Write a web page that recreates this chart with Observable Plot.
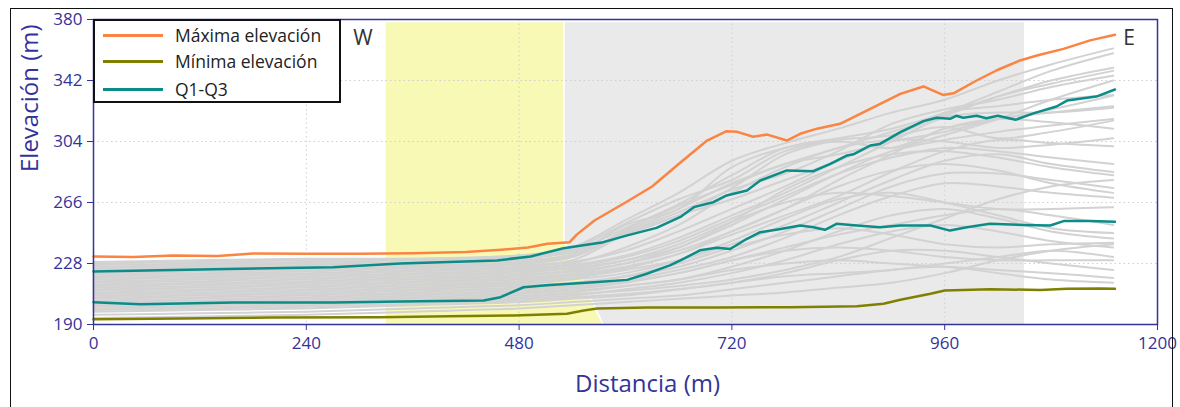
<!DOCTYPE html>
<html>
<head>
<meta charset="utf-8">
<script src="https://cdn.jsdelivr.net/npm/d3@7"></script>
<script src="https://cdn.jsdelivr.net/npm/@observablehq/plot@0.6"></script>
<style>
  html, body { margin: 0; padding: 0; background: #fff; }
  #wrap { position: relative; width: 1180px; height: 407px; overflow: hidden; font-family: "Open Sans", sans-serif; }
  #border { position: absolute; left: 10px; top: 8px; width: 1163px; height: 430px; border: 1.5px solid #111; box-sizing: border-box; pointer-events: none; }
  #chart { position: absolute; left: 0; top: 0; }
  #legend { position: absolute; left: 93px; top: 19px; width: 248px; height: 84px; box-sizing: border-box; border: 2px solid #111; background: #fff; }
  .row { position: absolute; left: 0; height: 26px; display: flex; align-items: center; }
  .sw { width: 60px; height: 3px; margin-left: 8px; margin-right: 12px; }
  .lt { font-size: 17.5px; color: #222; white-space: nowrap; }
</style>
</head>
<body>
<div id="wrap">
  <div id="chart"></div>
  <div id="legend"></div>
  <div id="border"></div>
</div>
<script>
// ---- axes ----
const xTicks = [0, 240, 480, 720, 960, 1200];
const yTicks = [190, 228, 266, 304, 342, 380];
const xLabel = "Distancia (m)";
const yLabel = "Elevación (m)";

// ---- series names & colours ----
const seriesNames = ["Máxima elevación", "Mínima elevación", "Q1-Q3"];
const seriesColors = ["#fb8442", "#808000", "#0b8c88"];

// ---- shaded zones (data coords: distance, elevation bottom/top) ----
const yellowZone = [
  {x: 330, y1: 190, y2: 378}, {x: 530, y1: 190, y2: 378},
  {x: 530, y1: 190, y2: 242}, {x: 574, y1: 190, y2: 190}
];
const grayZone = [
  {x: 532, y1: 242, y2: 378}, {x: 576, y1: 190, y2: 378}, {x: 1050, y1: 190, y2: 378}
];

// ---- side labels ----
const sideLabels = [{t: "W", x: 304, y: 368.5}, {t: "E", x: 1168, y: 368}];

// ---- maximum elevation ----
const maxX = [0,45,90,140,180,240,300,360,420,460,490,512,537,545,565,600,630,660,692,714,726,744,760,782,797,816,842,880,910,936,958,970,996,1020,1045,1064,1094,1124,1152];
const maxY = [232.4,232,233,232.6,234.2,234,234,234.4,235.2,236.6,238,240.3,241.3,246,254.8,266,276,290,304.6,310.4,310,307,308.3,304.6,308.8,312,315,325.4,333.7,338.3,333,334,342,348.7,354.5,357.6,361.7,367,370.5];

// ---- minimum elevation ----
const minX = [0,100,200,323,400,474,534,553,568,624,700,786,861,891,910,944,960,1011,1068,1098,1135,1152];
const minY = [193.3,193.8,194.3,194.5,195.2,195.6,196.7,198.7,200,200.6,200.6,200.8,201.4,202.9,205.4,209.1,211.2,212,211.5,212.2,212.4,212.2];

// ---- Q3 (upper quartile) ----
const q3X = [0,120,270,346,455,493,530,575,602,635,662,677,699,714,737,752,782,812,831,850,857,876,887,910,936,951,966,973,981,996,1007,1020,1040,1060,1086,1098,1131,1152];
const q3Y = [223,224.2,225.7,228,229.9,232.4,237.5,241.3,245.5,250.2,257,263.1,266.2,270.4,273.5,279.7,286,285.5,290,295.3,296,301.5,302.5,309.8,316.7,318.8,318.1,320,318.8,320,318.5,320,317.5,321.5,325.8,329.5,332,336.4];

// ---- Q1 (lower quartile) ----
const q1X = [0,53,158,270,346,440,459,485,511,564,602,624,650,662,684,703,718,737,752,775,797,812,825,838,861,887,910,944,966,985,1011,1049,1079,1094,1124,1152];
const q1Y = [203.9,202.6,203.7,203.7,204.3,205,207,213.2,214.5,216.3,217.8,221.6,226.8,229.9,236.2,237.8,237,243.4,247.5,249.5,251.7,250.6,249,252.7,251.7,250.6,251.7,251.7,248.5,250.6,252.7,252,251.7,254.4,254.4,254];

// ---- individual profiles (grey) ----
const grayX = [0,120,240,360,480,540,600,660,720,780,840,900,960,1020,1080,1150];
const grayProfiles = [
  [229,230,231,231,233,238,255,272,292,303,312,322,330,342,352,362],
  [227,228,229,230,232,236,250,265,283,300,306,312,322,335,348,359],
  [226,227,228,229,231,235,246,258,275,296,305,308,321,332,342,350],
  [224,225,226,227,229,233,248,262,278,290,300,310,320,332,340,348],
  [222,223,224,226,228,232,247,260,274,284,298,315,324,330,338,345],
  [225,226,227,228,230,234,252,262,288,300,304,300,308,318,330,342],
  [220,221,222,224,226,229,236,248,262,276,292,306,322,326,330,333],
  [223,224,225,226,228,232,249,264,277,290,296,304,310,318,322,326],
  [218,219,220,222,224,227,233,244,258,272,288,304,319,322,322,325],
  [216,217,218,220,222,225,230,238,252,268,284,298,305,310,314,318],
  [221,222,223,225,227,230,246,258,268,280,292,306,313,306,310,317],
  [214,215,216,218,220,223,228,236,248,262,280,296,312,318,316,312],
  [219,220,221,223,225,228,238,252,272,288,300,305,304,300,302,306],
  [212,213,214,216,218,221,226,234,246,258,270,285,298,305,303,301],
  [217,218,219,221,223,226,232,242,256,270,284,294,300,298,294,290],
  [210,211,212,214,216,219,224,230,240,252,266,280,292,296,290,285],
  [213,214,215,217,219,222,228,238,254,274,288,296,298,294,288,283],
  [208,209,210,212,214,216,220,226,236,248,262,276,284,284,280,275],
  [211,212,213,215,217,220,225,234,248,262,276,286,290,286,278,272],
  [206,207,208,210,212,214,218,224,232,244,258,270,278,276,272,269],
  [215,216,217,219,221,224,230,240,254,266,272,270,266,262,262,263],
  [204,205,206,208,210,212,216,222,230,238,246,252,258,262,258,252],
  [209,210,211,213,215,218,222,230,242,256,268,272,266,258,250,247],
  [202,203,204,206,208,210,214,218,226,236,248,258,262,256,248,243.6],
  [207,208,209,211,213,215,220,228,238,246,250,246,240,238,240,241],
  [200,201,202,204,206,208,212,216,222,230,240,248,252,248,242,238],
  [205,206,207,209,211,213,217,222,230,236,238,236,232,230,230,230],
  [198,199,200,202,204,206,208,212,216,222,230,236,236,232,228,224],
  [203,204,205,207,209,211,214,218,224,228,230,228,226,224,222,219],
  [196,197,198,200,202,204,206,208,212,216,220,224,226,222,218,216],
  [199,200,201,203,205,207,209,212,216,220,222,224,228,232,236,232],
  [194,195,196,198,200,202,204,206,208,210,213,216,222,230,236,240],
  [228,229,230,231,233,237,253,268,280,298,304,300,312,318,324,332.7],
  [201,202,203,205,207,209,211,214,218,224,232,244,256,268,276,280]
];

// ---- build tables ----
const grayRows = grayProfiles.flatMap((p, i) => p.map((v, j) => ({id: i, x: grayX[j], y: v})));
const toRows = (xs, ys) => xs.map((x, i) => ({x, y: ys[i]}));
const maxRows = toRows(maxX, maxY);
const minRows = toRows(minX, minY);
const q3Rows = toRows(q3X, q3Y);
const q1Rows = toRows(q1X, q1Y);

const navy = "#333399";

const chart = Plot.plot({
  width: 1180,
  height: 407,
  marginLeft: 93,
  marginRight: 23,
  marginTop: 19,
  marginBottom: 83,
  style: {fontFamily: "'Open Sans', sans-serif", background: "transparent"},
  x: {domain: [0, 1200]},
  y: {domain: [190, 380]},
  marks: [
    Plot.areaY(yellowZone, {x: "x", y1: "y1", y2: "y2", fill: "#f9f9b6", curve: "linear"}),
    Plot.areaY(grayZone, {x: "x", y1: "y1", y2: "y2", fill: "#eaeaea", curve: "linear"}),
    Plot.gridX(xTicks, {stroke: "#cfcfcf", strokeOpacity: 1, strokeDasharray: "1.5,3"}),
    Plot.gridY(yTicks, {stroke: "#cfcfcf", strokeOpacity: 1, strokeDasharray: "1.5,3"}),
    Plot.line(grayRows, {x: "x", y: "y", z: "id", stroke: "#d2d2d2", strokeWidth: 2, curve: "catmull-rom"}),
    Plot.line(minRows, {x: "x", y: "y", stroke: seriesColors[1], strokeWidth: 2.5}),
    Plot.line(q1Rows, {x: "x", y: "y", stroke: seriesColors[2], strokeWidth: 2.5}),
    Plot.line(q3Rows, {x: "x", y: "y", stroke: seriesColors[2], strokeWidth: 2.5}),
    Plot.line(maxRows, {x: "x", y: "y", stroke: seriesColors[0], strokeWidth: 2.5}),
    Plot.frame({stroke: navy, strokeWidth: 1.5}),
    Plot.axisX(xTicks, {tickSize: 6, tickPadding: 6, fontSize: 17, fill: navy, stroke: navy, label: null, tickFormat: d => String(d)}),
    Plot.axisY(yTicks, {tickSize: 6, tickPadding: 5, fontSize: 17, fill: navy, stroke: navy, label: null, tickFormat: d => String(d)}),
    Plot.text([xLabel], {frameAnchor: "bottom", dx: 22, dy: 67, fontSize: 24, fill: navy}),
    Plot.text([yLabel], {frameAnchor: "left", rotate: -90, dx: -63, fontSize: 24, fill: navy}),
    Plot.text(sideLabels, {x: "x", y: "y", text: "t", fontSize: 21, fill: "#333"})
  ]
});
document.getElementById("chart").appendChild(chart);

// ---- legend ----
const legend = document.getElementById("legend");
const rowTops = [1, 27, 55];
seriesNames.forEach((name, i) => {
  const r = document.createElement("div");
  r.className = "row";
  r.style.top = rowTops[i] + "px";
  const sw = document.createElement("div");
  sw.className = "sw";
  sw.style.background = seriesColors[i];
  const t = document.createElement("span");
  t.className = "lt";
  t.textContent = name;
  r.appendChild(sw); r.appendChild(t);
  legend.appendChild(r);
});
</script>
</body>
</html>
